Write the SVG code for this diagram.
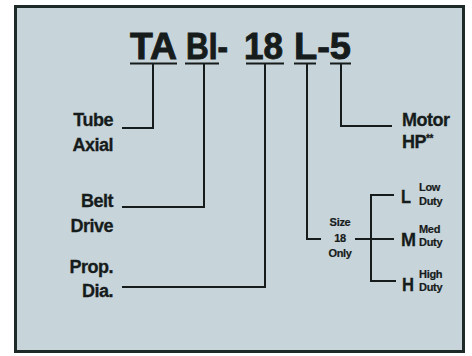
<svg xmlns="http://www.w3.org/2000/svg" width="472" height="356" viewBox="0 0 472 356">
<style>
.t{font-family:"Liberation Sans",Arial,Helvetica,sans-serif;font-weight:bold;fill:#161b1b;stroke:#161b1b;stroke-width:0.3}
.title{font-size:36px;stroke-width:0.9}
.lbl{font-size:18px;letter-spacing:-0.5px}
.sm{font-size:11px;letter-spacing:-0.3px;stroke-width:0.2}
.big{font-size:19px}
.ln{fill:none;stroke:#161b1b;stroke-width:2;stroke-linecap:butt}
</style>
<rect x="0" y="0" width="472" height="356" fill="#ffffff"/>
<rect id="frame" x="15.5" y="6.5" width="448" height="345" fill="#c7d4d9" stroke="#1e2a28" stroke-width="3"/>
<g id="code">
<text class="t title" x="130" y="59" textLength="47" lengthAdjust="spacingAndGlyphs">TA</text>
<text class="t title" x="186" y="59" textLength="42" lengthAdjust="spacingAndGlyphs">BI-</text>
<text class="t title" x="244" y="59" textLength="39" lengthAdjust="spacingAndGlyphs">18</text>
<text class="t title" x="294" y="59" textLength="57" lengthAdjust="spacingAndGlyphs">L-5</text>
</g>
<g id="tube"><text class="t lbl" text-anchor="end" x="113" y="126">Tube</text><text class="t lbl" text-anchor="end" x="113" y="151">Axial</text></g>
<g id="belt"><text class="t lbl" text-anchor="end" x="113" y="207">Belt</text><text class="t lbl" text-anchor="end" x="113" y="232">Drive</text></g>
<g id="prop"><text class="t lbl" text-anchor="end" x="113" y="273">Prop.</text><text class="t lbl" text-anchor="end" x="113" y="297">Dia.</text></g>
<g id="motor"><text class="t lbl" x="402" y="126">Motor</text><text class="t lbl" x="402" y="148">HP<tspan font-size="10" dy="-6">**</tspan></text></g>
<g id="size"><text class="t sm" text-anchor="middle" x="340" y="226">Size</text><text class="t sm" text-anchor="middle" x="340" y="242">18</text><text class="t sm" text-anchor="middle" x="340" y="257">Only</text></g>
<g id="low"><text class="t big" x="401" y="203" textLength="10" lengthAdjust="spacingAndGlyphs">L</text><text class="t sm" x="419" y="191">Low</text><text class="t sm" x="419" y="205">Duty</text></g>
<g id="med"><text class="t big" x="401" y="246" textLength="15" lengthAdjust="spacingAndGlyphs">M</text><text class="t sm" x="419" y="233">Med</text><text class="t sm" x="419" y="246">Duty</text></g>
<g id="high"><text class="t big" x="402" y="291" textLength="12" lengthAdjust="spacingAndGlyphs">H</text><text class="t sm" x="419" y="278">High</text><text class="t sm" x="419" y="291">Duty</text></g>
<g id="connectors" class="ln">
<path class="ln" d="M130 63.5H177M153 63.5V128H122"/>
<path class="ln" d="M185 63.5H219M204 63.5V207H122"/>
<path class="ln" d="M246 63.5H284M265 63.5V287H122"/>
<path class="ln" d="M294 63.5H316M307 63.5V239H321"/>
<path class="ln" d="M330 63.5H351M341 63.5V126H392"/>
<path class="ln" d="M355 239H394M394 195H371V281H396"/>
</g>
</svg>
